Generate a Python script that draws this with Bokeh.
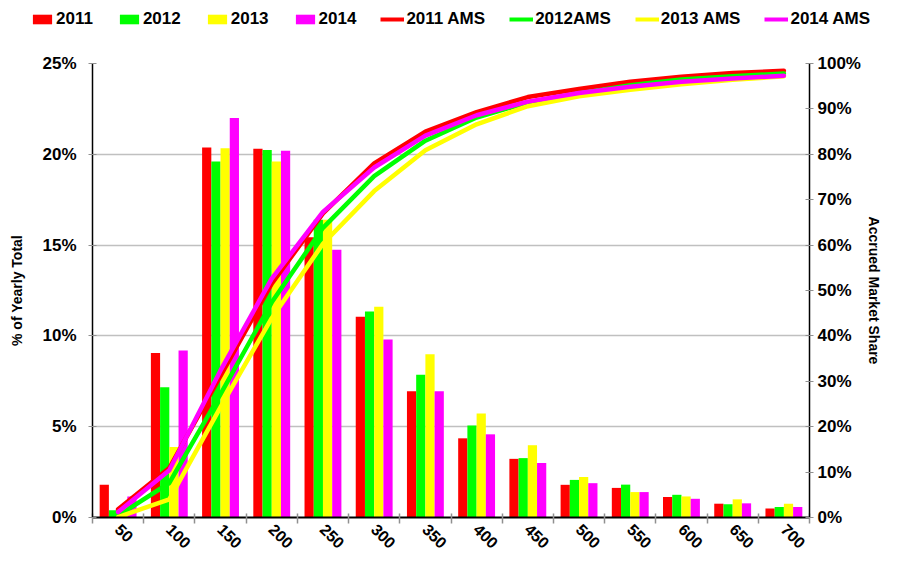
import math
from bokeh.plotting import figure
from bokeh.layouts import column, row
from bokeh.models import (Range1d, LinearAxis, FixedTicker, PrintfTickFormatter,
                          Legend, LegendItem, ColumnDataSource)
from bokeh.embed import file_html
from bokeh.resources import INLINE

# ---- data ----
categories = ["50", "100", "150", "200", "250", "300", "350",
              "400", "450", "500", "550", "600", "650", "700"]

share_2011 = [1.8, 9.06, 20.37, 20.3, 15.43, 11.06, 6.95, 4.36, 3.23, 1.8, 1.63, 1.13, 0.76, 0.49]
share_2012 = [0.4, 7.17, 19.6, 20.24, 16.4, 11.35, 7.86, 5.07, 3.27, 2.07, 1.81, 1.25, 0.73, 0.58]
share_2013 = [0.1, 3.88, 20.33, 19.6, 16.4, 11.6, 8.99, 5.72, 3.98, 2.23, 1.4, 1.16, 1.0, 0.76]
share_2014 = [1.16, 9.2, 22.0, 20.2, 14.74, 9.8, 6.95, 4.58, 3.0, 1.89, 1.4, 1.03, 0.78, 0.58]

ams_2011 = [1.8, 10.9, 31.2, 51.5, 67.0, 78.0, 85.0, 89.3, 92.6, 94.4, 96.0, 97.1, 97.9, 98.4]
ams_2012 = [0.4, 7.6, 27.2, 47.4, 63.8, 75.2, 83.0, 88.1, 91.4, 93.4, 95.2, 96.5, 97.2, 97.8]
ams_2013 = [0.1, 4.0, 24.3, 43.9, 60.3, 71.9, 80.9, 86.6, 90.6, 92.8, 94.2, 95.4, 96.4, 97.2]
ams_2014 = [1.2, 10.4, 32.4, 52.6, 67.3, 77.1, 84.1, 88.6, 91.6, 93.5, 94.9, 96.0, 96.7, 97.3]

left_ticks = [0, 5, 10, 15, 20, 25]
right_ticks = [0, 10, 20, 30, 40, 50, 60, 70, 80, 90, 100]

bar_labels = ["2011", "2012", "2013", "2014"]
line_labels = ["2011 AMS", "2012AMS", "2013 AMS", "2014 AMS"]
colors = ["#FF0000", "#00FF00", "#FFFF00", "#FF00FF"]

FONT = "Liberation Sans"

n = len(categories)
centers = [i + 0.5 for i in range(n)]
bar_w = 0.18

shares = [share_2011, share_2012, share_2013, share_2014]
amss = [ams_2011, ams_2012, ams_2013, ams_2014]
bar_sources = [ColumnDataSource(dict(x=[c + (k - 1.5) * bar_w for c in centers], top=vals))
               for k, vals in enumerate(shares)]
line_sources = [ColumnDataSource(dict(x=centers, y=vals)) for vals in amss]

# ---------------- legend strip (same data, ranges far outside the data) ----------------
lg = figure(width=884, height=40, output_backend="svg", toolbar_location=None,
            x_range=Range1d(-1000, -999), y_range=Range1d(-1000, -999),
            x_axis_location=None, y_axis_location=None,
            min_border_left=0, min_border_right=0, min_border_top=0, min_border_bottom=0)
lg.outline_line_color = None
lg.xgrid.visible = False
lg.ygrid.visible = False
lg_items = []
for lab, col, src in zip(bar_labels, colors, bar_sources):
    r = lg.vbar(x="x", top="top", width=bar_w, source=src, fill_color=col, line_color=None)
    lg_items.append(LegendItem(label=lab, renderers=[r]))
for lab, col, src in zip(line_labels, colors, line_sources):
    r = lg.line(x="x", y="y", source=src, line_color=col, line_width=4)
    lg_items.append(LegendItem(label=lab, renderers=[r]))
legend = Legend(items=lg_items, orientation="horizontal", location=(30, 11),
                glyph_width=24, glyph_height=12, spacing=24, label_standoff=2,
                label_text_font=FONT, label_text_font_style="bold",
                label_text_font_size="17px", label_text_color="black",
                border_line_color=None, background_fill_alpha=0,
                padding=0, margin=0)
lg.add_layout(legend, "center")

# ---------------- main chart ----------------
p = figure(width=884, height=516, output_backend="svg", toolbar_location=None,
           x_range=Range1d(0, n), y_range=Range1d(0, 25),
           min_border_left=92, min_border_right=69, min_border_top=23,
           min_border_bottom=38)
p.extra_y_ranges = {"ams": Range1d(0, 100)}
p.outline_line_color = None
p.background_fill_color = "white"
p.border_fill_color = "white"

# x axis
xa = p.xaxis[0]
xa.ticker = FixedTicker(ticks=centers, minor_ticks=list(range(n + 1)))
xa.major_label_overrides = {c: lab for c, lab in zip(centers, categories)}
xa.major_tick_in = 0
xa.major_tick_out = 0
xa.minor_tick_in = 4
xa.minor_tick_out = 6
xa.minor_tick_line_color = "#909090"
xa.minor_tick_line_width = 1.5
xa.axis_line_color = "black"
xa.axis_line_width = 2
xa.major_label_orientation = -math.pi / 4
xa.major_label_standoff = 3
xa.major_label_text_font = FONT
xa.major_label_text_font_style = "bold"
xa.major_label_text_font_size = "16px"
xa.major_label_text_color = "black"

# left axis
ya = p.yaxis[0]
ya.ticker = FixedTicker(ticks=left_ticks)
ya.formatter = PrintfTickFormatter(format="%d%%")
ya.major_tick_in = 4
ya.major_tick_out = 4
ya.major_tick_line_color = "#909090"
ya.minor_tick_line_color = None
ya.axis_line_color = "black"
ya.axis_line_width = 1.5
ya.major_label_standoff = 12
ya.major_label_text_font = FONT
ya.major_label_text_font_style = "bold"
ya.major_label_text_font_size = "17px"
ya.major_label_text_color = "black"
ya.axis_label = "% of Yearly Total"
ya.axis_label_text_font = FONT
ya.axis_label_text_font_style = "bold"
ya.axis_label_text_font_size = "14px"
ya.axis_label_text_color = "black"
ya.axis_label_standoff = 14

# right axis
ra = LinearAxis(y_range_name="ams", ticker=FixedTicker(ticks=right_ticks),
                formatter=PrintfTickFormatter(format="%d%%"))
ra.major_tick_in = 4
ra.major_tick_out = 4
ra.major_tick_line_color = "#909090"
ra.minor_tick_line_color = None
ra.axis_line_color = "black"
ra.axis_line_width = 1.5
ra.major_label_standoff = 4
ra.major_label_text_font = FONT
ra.major_label_text_font_style = "bold"
ra.major_label_text_font_size = "17px"
ra.major_label_text_color = "black"
ra.axis_label = "Accrued Market Share"
ra.axis_label_text_font = FONT
ra.axis_label_text_font_style = "bold"
ra.axis_label_text_font_size = "14px"
ra.axis_label_text_color = "black"
ra.axis_label_standoff = 2
p.add_layout(ra, "right")

# grid
p.xgrid.visible = False
p.ygrid.ticker = FixedTicker(ticks=left_ticks)
p.ygrid.grid_line_color = "#c0c0c0"
p.ygrid.grid_line_width = 1.5

# bars
for src, col in zip(bar_sources, colors):
    p.vbar(x="x", top="top", width=bar_w, source=src, fill_color=col, line_color=None)

# AMS lines
for src, col in zip(line_sources, colors):
    p.line(x="x", y="y", source=src, y_range_name="ams",
           line_color=col, line_width=4.5, line_join="round", line_cap="round")

layout = column(row(lg), p, spacing=0)
open("out.html", "w").write(file_html(layout, INLINE))
